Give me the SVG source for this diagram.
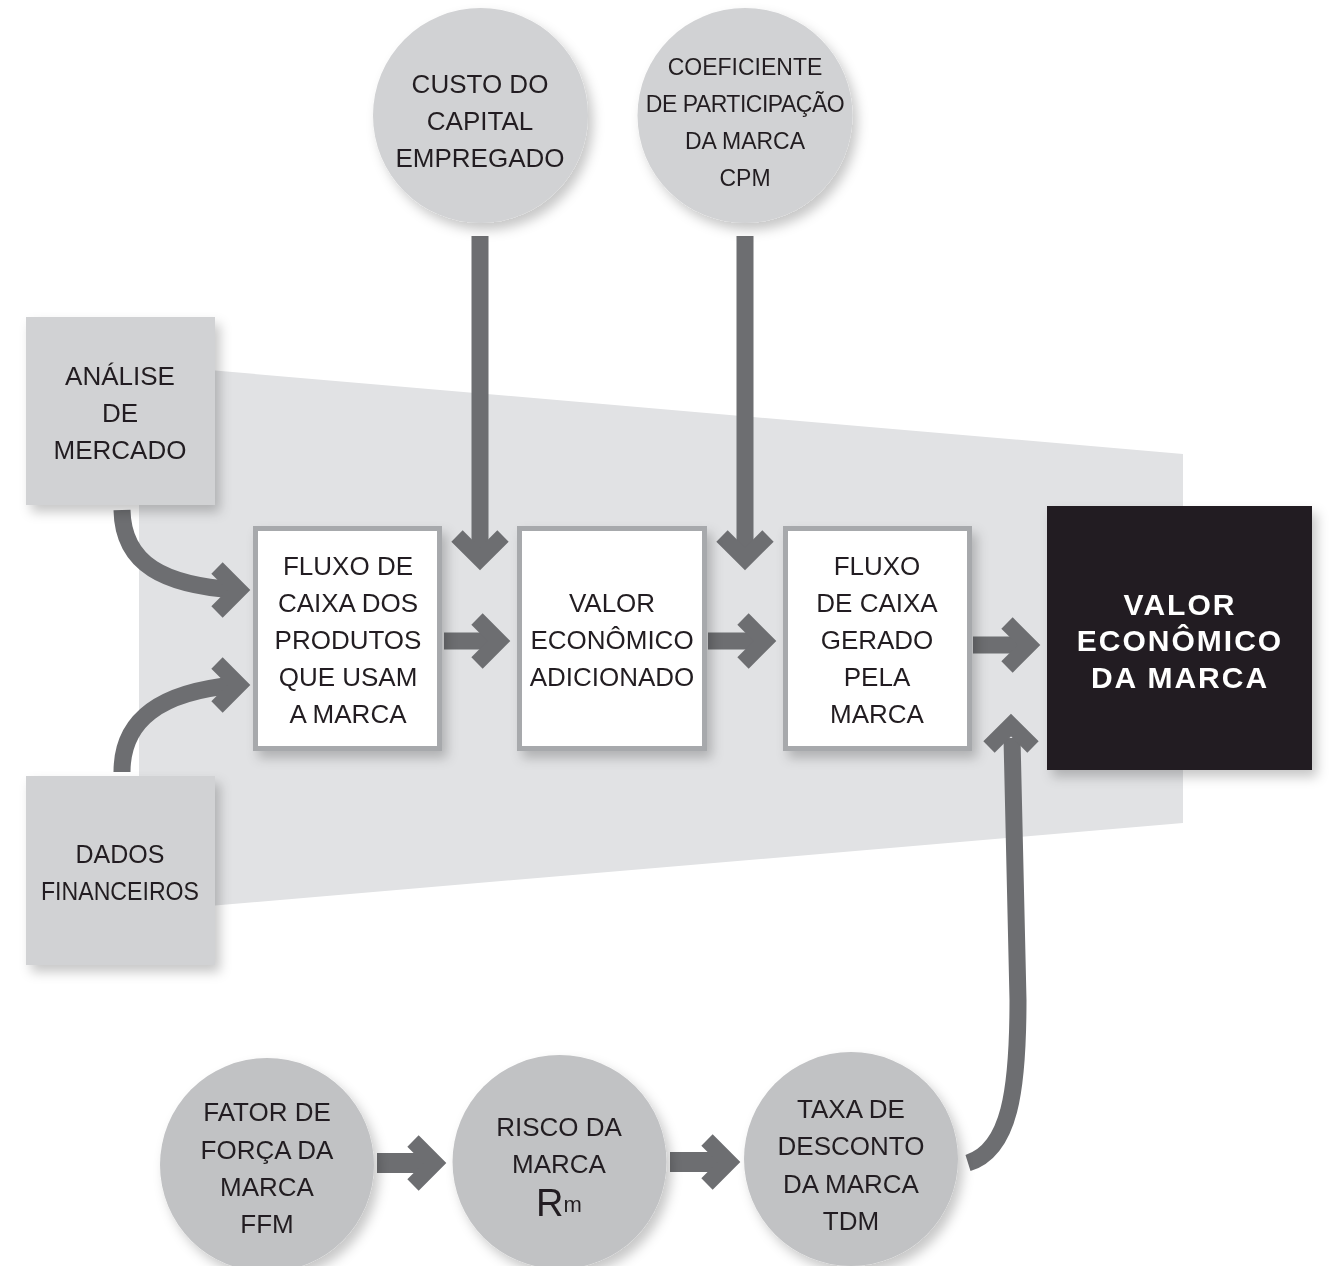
<svg xmlns="http://www.w3.org/2000/svg" width="1331" height="1266" viewBox="0 0 1331 1266">
<defs>
<filter id="sh" x="-20%" y="-20%" width="150%" height="150%">
<feDropShadow dx="5" dy="7" stdDeviation="6" flood-color="#000" flood-opacity="0.22"/>
</filter>
<style>
.t{font-family:"Liberation Sans",Arial,sans-serif;font-size:26px;fill:#231f20;text-anchor:middle}
.s{font-size:23px}
.b{font-family:"Liberation Sans",Arial,sans-serif;font-size:30px;font-weight:bold;fill:#ffffff;text-anchor:middle;letter-spacing:2px}
.gbox{fill:#d1d2d4}
.wbox{fill:#ffffff;stroke:#a7a9ac;stroke-width:5}
.ctop{fill:#d1d2d4}
.cbot{fill:#c1c2c4}
.shaft{fill:none;stroke:#6d6e71;stroke-width:17}
.head{fill:none;stroke:#6d6e71;stroke-width:16;stroke-linejoin:miter;stroke-miterlimit:10}
</style>
</defs>
<rect width="1331" height="1266" fill="#ffffff"/>
<polygon id="band" points="139,364 1183,454 1183,823 139,912" fill="#e1e2e4"/>

<g id="connectors">
<path class="shaft" d="M480 236 V555"/>
<polyline class="head" points="457,536 480,559 503,536"/>
<path class="shaft" d="M745 236 V555"/>
<polyline class="head" points="722,536 745,559 768,536"/>
<path class="shaft" d="M122 510 C123 565 165 585 235 590"/>
<polyline class="head" points="217,568 239,590 217,612"/>
<path class="shaft" d="M122 772 C122 720 160 692 235 685"/>
<polyline class="head" points="217,663 239,685 217,707"/>
<path class="shaft" d="M444 641 H495"/>
<polyline class="head" points="477,619 499,641 477,663"/>
<path class="shaft" d="M708 641 H760"/>
<polyline class="head" points="743,619 765,641 743,663"/>
<path class="shaft" d="M973 645 H1025"/>
<polyline class="head" points="1007,623 1029,645 1007,667"/>
<path class="shaft" d="M377 1163 H431" style="stroke-width:20"/>
<polyline class="head" points="413,1141 435,1163 413,1185"/>
<path class="shaft" d="M670 1162 H725" style="stroke-width:20"/>
<polyline class="head" points="707,1140 729,1162 707,1184"/>
<path class="shaft" d="M968 1163 C1010 1150 1018 1090 1018 1000 L1012 738"/>
<polyline class="head" points="989,747 1011,725 1033,747"/>
</g>

<g id="n-analise" filter="url(#sh)">
<rect class="gbox" x="26" y="317" width="189" height="188"/>
<text class="t" x="120" y="385">ANÁLISE</text>
<text class="t" x="120" y="422">DE</text>
<text class="t" x="120" y="459">MERCADO</text>
</g>
<g id="n-dados" filter="url(#sh)">
<rect class="gbox" x="26" y="776" width="189" height="189"/>
<text class="t" x="120" y="863" style="font-size:25px">DADOS</text>
<text class="t" x="120" y="900" style="font-size:25px" textLength="158" lengthAdjust="spacingAndGlyphs">FINANCEIROS</text>
</g>

<g id="n-fluxo1" filter="url(#sh)">
<rect class="wbox" x="255.5" y="528.5" width="184" height="220"/>
<text class="t" x="348" y="575">FLUXO DE</text>
<text class="t" x="348" y="612">CAIXA DOS</text>
<text class="t" x="348" y="649">PRODUTOS</text>
<text class="t" x="348" y="686">QUE USAM</text>
<text class="t" x="348" y="723">A MARCA</text>
</g>
<g id="n-eva" filter="url(#sh)">
<rect class="wbox" x="519.5" y="528.5" width="185" height="220"/>
<text class="t" x="612" y="612">VALOR</text>
<text class="t" x="612" y="649">ECONÔMICO</text>
<text class="t" x="612" y="686">ADICIONADO</text>
</g>
<g id="n-fluxo2" filter="url(#sh)">
<rect class="wbox" x="785.5" y="528.5" width="184" height="220"/>
<text class="t" x="877" y="575">FLUXO</text>
<text class="t" x="877" y="612">DE CAIXA</text>
<text class="t" x="877" y="649">GERADO</text>
<text class="t" x="877" y="686">PELA</text>
<text class="t" x="877" y="723">MARCA</text>
</g>
<g id="n-valor" filter="url(#sh)">
<rect x="1047" y="506" width="265" height="264" fill="#231f20"/>
<text class="b" x="1180" y="615">VALOR</text>
<text class="b" x="1180" y="651">ECONÔMICO</text>
<text class="b" x="1180" y="688">DA MARCA</text>
</g>

<g id="n-custo" filter="url(#sh)">
<circle class="ctop" cx="480.5" cy="115.5" r="107.5"/>
<text class="t" x="480" y="93">CUSTO DO</text>
<text class="t" x="480" y="130">CAPITAL</text>
<text class="t" x="480" y="167">EMPREGADO</text>
</g>
<g id="n-cpm" filter="url(#sh)">
<circle class="ctop" cx="745" cy="115.5" r="107.5"/>
<text class="t s" x="745" y="75">COEFICIENTE</text>
<text class="t s" x="745" y="112" style="letter-spacing:-0.5px">DE PARTICIPAÇÃO</text>
<text class="t s" x="745" y="149">DA MARCA</text>
<text class="t s" x="745" y="186">CPM</text>
</g>

<g id="n-ffm" filter="url(#sh)">
<circle class="cbot" cx="267" cy="1165" r="107"/>
<text class="t" x="267" y="1121">FATOR DE</text>
<text class="t" x="267" y="1159">FORÇA DA</text>
<text class="t" x="267" y="1196">MARCA</text>
<text class="t" x="267" y="1233">FFM</text>
</g>
<g id="n-risco" filter="url(#sh)">
<circle class="cbot" cx="559.5" cy="1162" r="107"/>
<text class="t" x="559" y="1136">RISCO DA</text>
<text class="t" x="559" y="1173">MARCA</text>
<text class="t" x="559" y="1216"><tspan style="font-size:38px">R</tspan><tspan style="font-size:22px" dy="-4">m</tspan></text>
</g>
<g id="n-tdm" filter="url(#sh)">
<circle class="cbot" cx="851" cy="1159" r="107"/>
<text class="t" x="851" y="1118">TAXA DE</text>
<text class="t" x="851" y="1155">DESCONTO</text>
<text class="t" x="851" y="1193">DA MARCA</text>
<text class="t" x="851" y="1230">TDM</text>
</g>
</svg>
